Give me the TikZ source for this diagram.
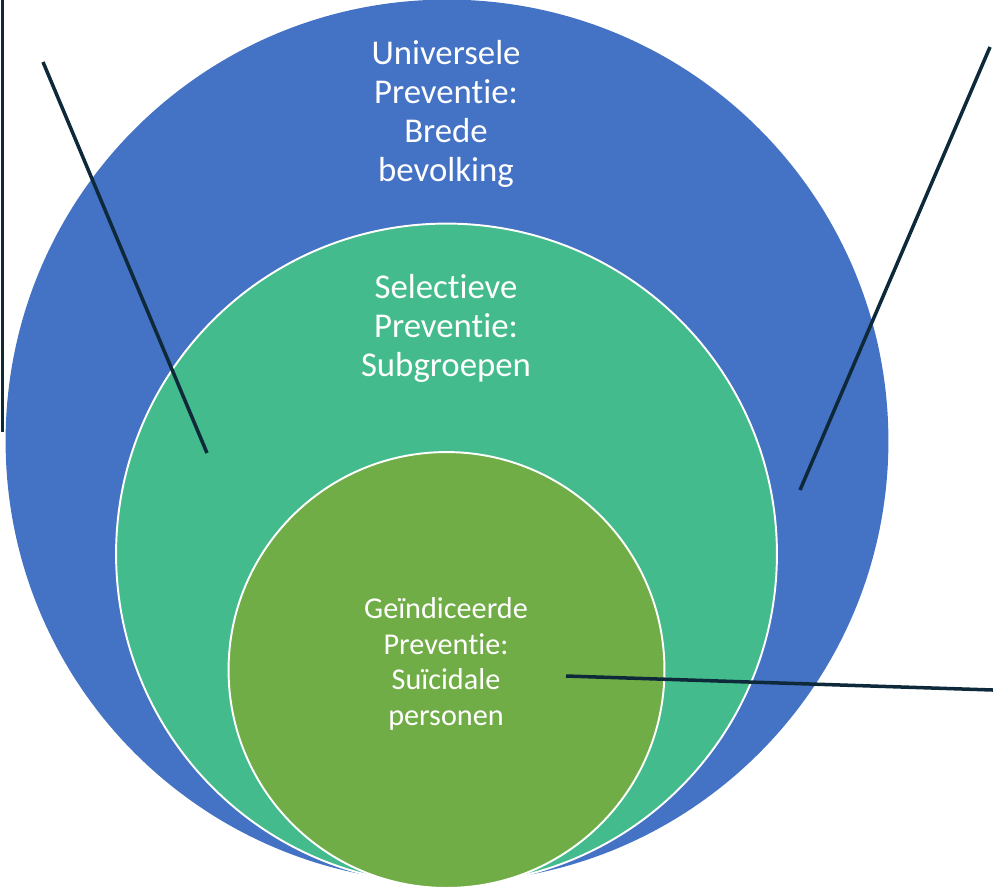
\documentclass[tikz,border=0pt]{standalone}
\usepackage{fontspec}
\setmainfont{Carlito}[Ligatures=NoCommon]
\definecolor{uniblauw}{HTML}{4472C4}
\definecolor{selgroen}{HTML}{44BB8D}
\definecolor{indgroen}{HTML}{70AD47}
\definecolor{lijnkleur}{HTML}{0E2A3A}
\begin{document}
\begin{tikzpicture}[x=0.02cm,y=-0.02cm,
        laag/.style={circle,inner sep=0pt,outer sep=0pt},
        tekst/.style={text=white,align=center,inner sep=0pt},
        lijn/.style={lijnkleur,line width=2pt}]
            \useasboundingbox (0,0) rectangle (993,890);
            % cirkels
            \node[laag,fill=uniblauw,minimum size=17.66cm] (universeel) at (447,441) {};
            \node[laag,fill=selgroen,draw=white,line width=1.1pt,minimum size=13.22cm] (selectief) at (446.5,554) {};
            \node[laag,fill=indgroen,draw=white,line width=1.1pt,minimum size=8.72cm] (geindiceerd) at (446.5,670) {};
            % teksten
            \node[tekst,font=\fontsize{19.8}{22.2}\selectfont] (tuniverseel) at (446,114) {Universele\\Preventie:\\Brede\\bevolking};
            \node[tekst,font=\fontsize{19.8}{22.2}\selectfont] (tselectief) at (446,328) {Selectieve\\Preventie:\\Subgroepen};
            \node[tekst,font=\fontsize{17.2}{20.2}\selectfont] (tgeindiceerd) at (446,664) {Geïndiceerde\\Preventie:\\Suïcidale\\personen};
            % aanwijslijnen
            \coordinate (kader) at (2.5,0);
            \coordinate (kaderonder) at (2.5,432);
            \coordinate (linksboven) at (43,62);
            \coordinate (linkspunt) at (207,453);
            \coordinate (rechtsboven) at (990,47);
            \coordinate (rechtspunt) at (800,490);
            \coordinate (midden) at (566,676);
            \coordinate (rechtsrand) at (993,690);
            \draw[lijn] (kader) -- (kaderonder);
            \draw[lijn] (linksboven) -- (linkspunt);
            \draw[lijn] (rechtsboven) -- (rechtspunt);
            \draw[lijn] (midden) -- (rechtsrand);
\end{tikzpicture}
\end{document}
